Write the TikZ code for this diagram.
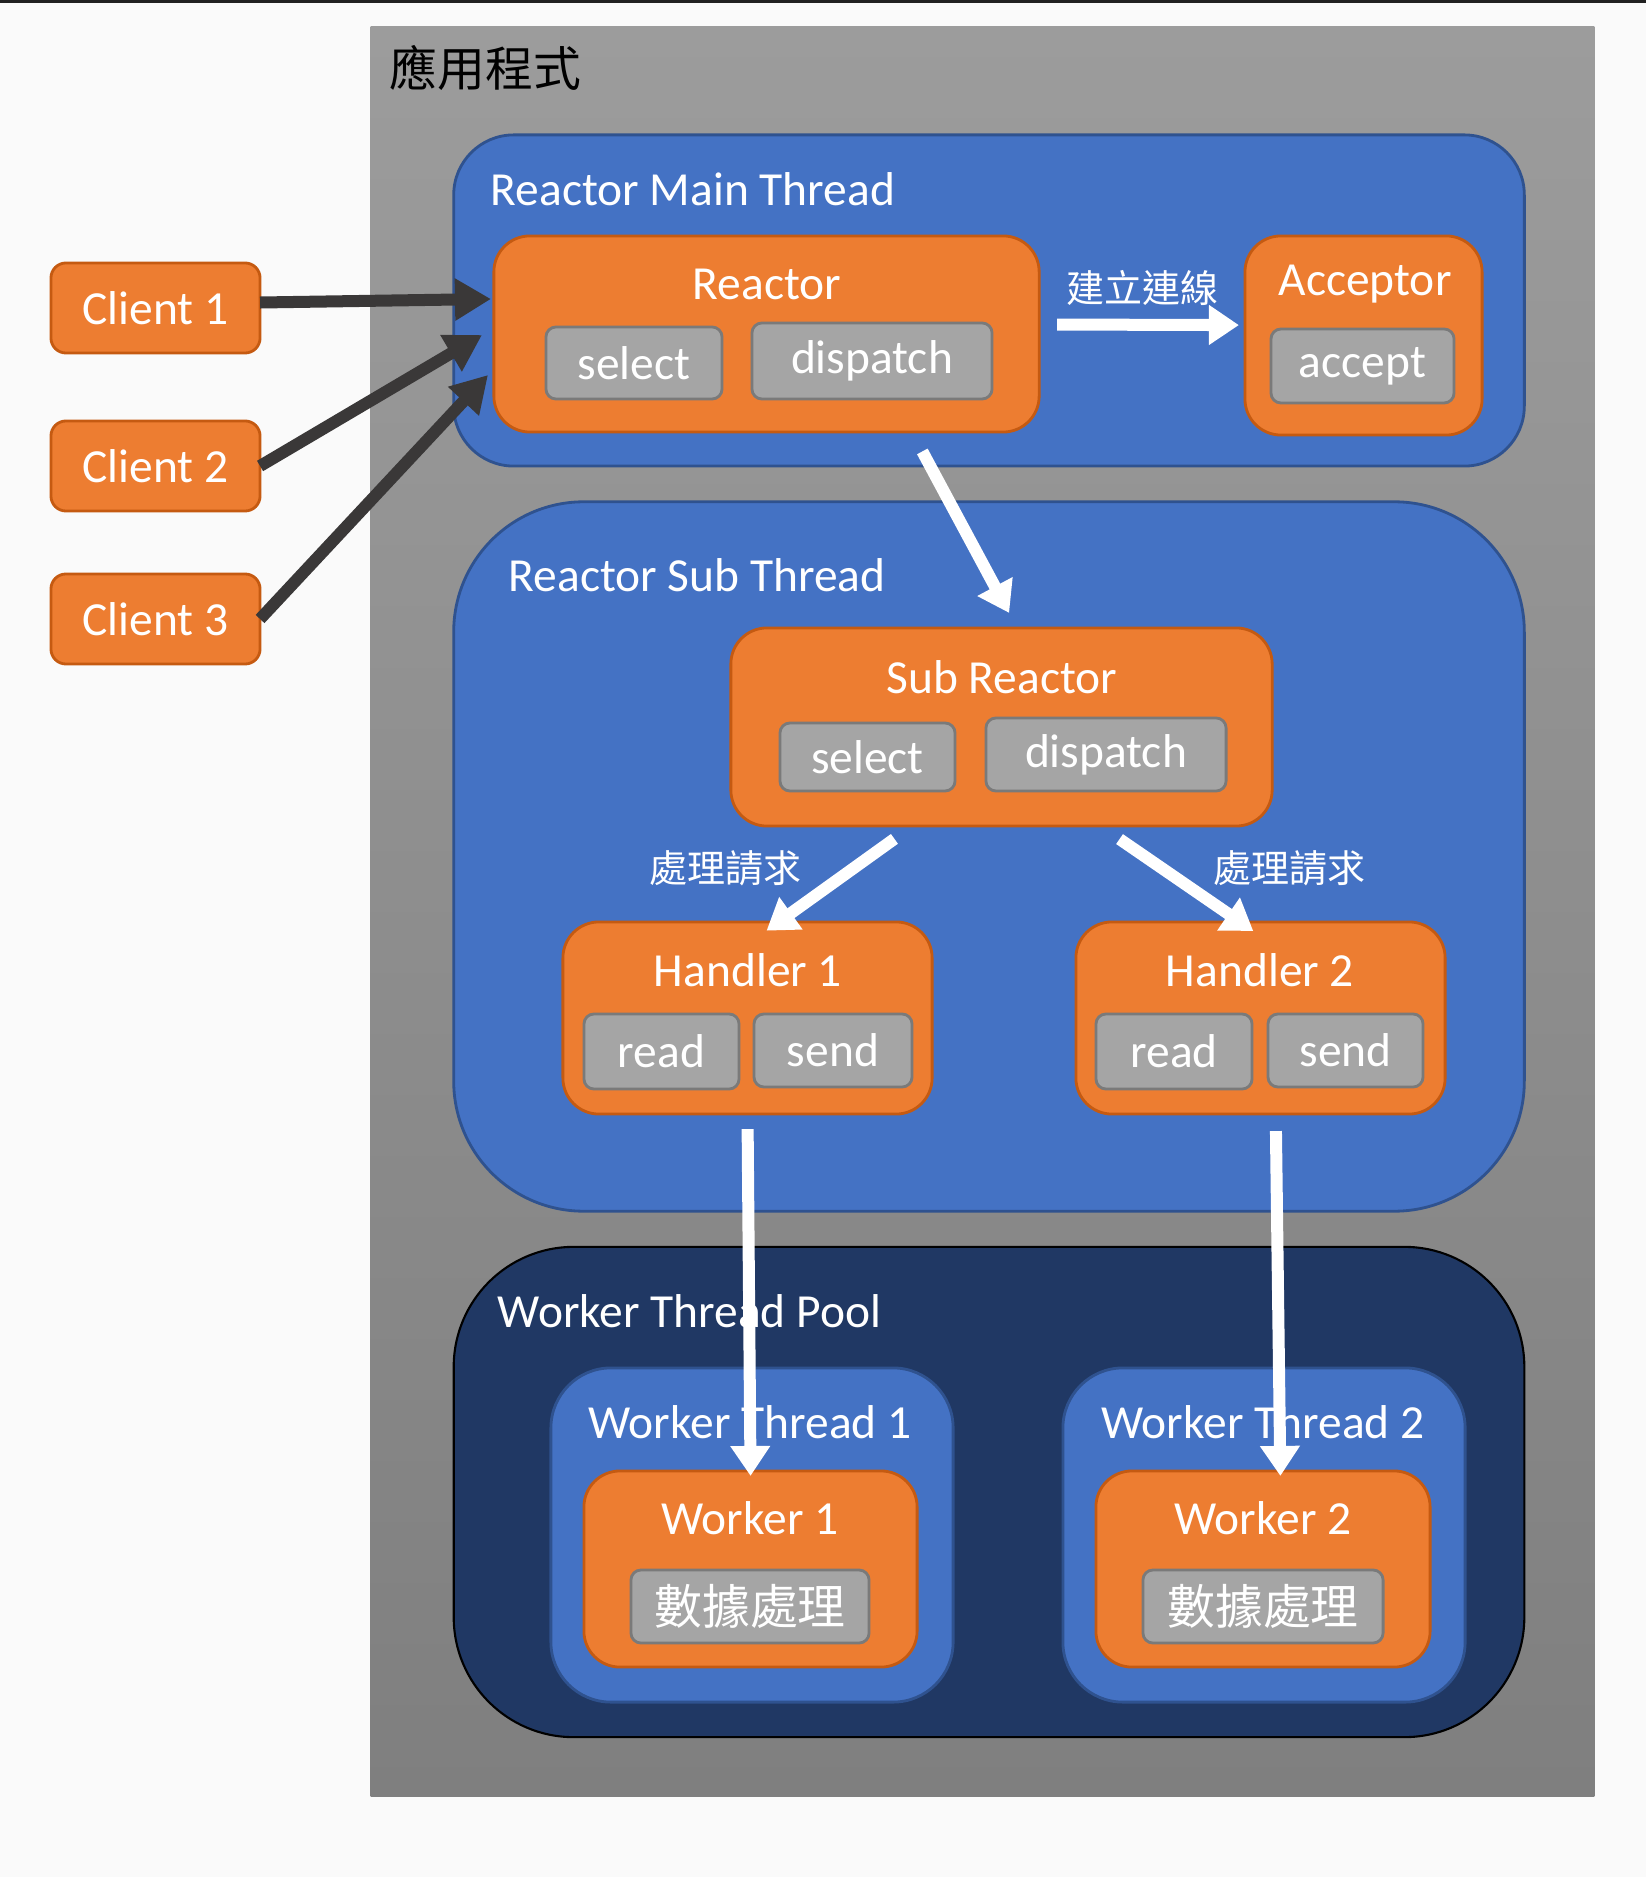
\documentclass[tikz,border=0pt]{standalone}
\usepackage{fontspec}
\setmainfont{Carlito}
\newfontfamily\cjk{Noto Sans CJK TC}
\usetikzlibrary{arrows.meta}
\definecolor{pagebg}{HTML}{FAFAFA}
\definecolor{apptop}{HTML}{9C9C9C}
\definecolor{appbot}{HTML}{7F7F7F}
\definecolor{blu}{HTML}{4472C4}
\definecolor{bluline}{HTML}{2F528F}
\definecolor{navy}{HTML}{203864}
\definecolor{orng}{HTML}{ED7D31}
\definecolor{orngline}{HTML}{C55A11}
\definecolor{gry}{HTML}{A5A5A5}
\definecolor{gryline}{HTML}{7A7A7A}
\definecolor{arrgray}{HTML}{3A3838}
\tikzset{l/.style={font=\fontsize{13.5}{14}\selectfont, text=white, inner sep=0pt}}
\tikzset{m/.style={font=\cjk\fontsize{10.8}{11}\selectfont, text=white, inner sep=0pt}}
\tikzset{box/.style={rectangle, inner sep=0pt, outer sep=0pt}}
\tikzset{thr/.style={box, draw=bluline, fill=blu, line width=0.8pt}}
\tikzset{org/.style={box, draw=orngline, fill=orng, line width=0.8pt, rounded corners=0.36cm}}
\tikzset{cbox/.style={org, rounded corners=0.15cm, minimum width=2.09cm, minimum height=0.9cm, l}}
\tikzset{gbox/.style={box, draw=gryline, fill=gry, line width=0.8pt, rounded corners=0.1cm, l}}
\tikzset{carrow/.style={draw=arrgray, line width=0.12cm, -{Triangle[length=0.36cm,width=0.4cm]}}}
\tikzset{warrow/.style={draw=white, line width=0.12cm, -{Triangle[length=0.3cm,width=0.38cm]}}}

\begin{document}
\begin{tikzpicture}[x=0.01cm,y=-0.01cm]
        \useasboundingbox (0,0) rectangle (1646,1877);
        \fill[pagebg] (0,0) rectangle (1646,1877);
        \fill[black!87] (0,0) rectangle (1646,3);
        \node[box, top color=apptop, bottom color=appbot, minimum width=12.23cm, minimum height=17.69cm] (app) at (982.5,911.5) {};
        \node[anchor=west, inner sep=0pt, font=\cjk\fontsize{13.6}{14}\selectfont] (appT) at (389,68) {應用程式};
        \node[cbox] (cl1) at (155.5,308) {Client 1};
        \node[cbox] (cl2) at (155.5,466) {Client 2};
        \node[cbox] (cl3) at (155.5,619) {Client 3};
        \node[thr, rounded corners=0.6cm, minimum width=10.7cm, minimum height=3.31cm] (mainthr) at (989,300.5) {};
        \node[l, anchor=west] (mainT) at (490,189) {Reactor Main Thread};
        \node[org, minimum width=5.45cm, minimum height=1.96cm] (reactor) at (766.5,334) {};
        \node[l] (reactorT) at (767,284) {Reactor};
        \node[gbox, minimum width=1.76cm, minimum height=0.72cm] (rsel) at (634,363) {select};
        \node[gbox, minimum width=2.4cm, minimum height=0.76cm] (rdis) at (872,361) {dispatch};
        \node[org, minimum width=2.37cm, minimum height=1.99cm] (acceptor) at (1363.5,335.5) {};
        \node[l] (acceptorT) at (1365,284) {Acceptor};
        \node[gbox, minimum width=1.83cm, minimum height=0.74cm] (acc) at (1362.5,366) {accept};
        \node[thr, rounded corners=1.3cm, minimum width=10.7cm, minimum height=7.09cm] (subthr) at (989,856.5) {};
        \node[l, anchor=west] (subT) at (508,575) {Reactor Sub Thread};
        \node[org, minimum width=5.41cm, minimum height=1.98cm] (subreactor) at (1001.5,727) {};
        \node[l] (subreactorT) at (1002,677) {Sub Reactor};
        \node[gbox, minimum width=1.75cm, minimum height=0.68cm] (ssel) at (867.5,757) {select};
        \node[gbox, minimum width=2.4cm, minimum height=0.73cm] (sdis) at (1106,754.5) {dispatch};
        \node[org, minimum width=3.69cm, minimum height=1.92cm] (handler1) at (747.5,1018) {};
        \node[l] (handler1T) at (748,970) {Handler 1};
        \node[gbox, minimum width=1.55cm, minimum height=0.75cm] (h1read) at (661.5,1051.5) {read};
        \node[gbox, minimum width=1.58cm, minimum height=0.73cm] (h1send) at (833,1050.5) {send};
        \node[org, minimum width=3.69cm, minimum height=1.92cm] (handler2) at (1260.5,1018) {};
        \node[l] (handler2T) at (1260,970) {Handler 2};
        \node[gbox, minimum width=1.56cm, minimum height=0.75cm] (h2read) at (1174,1051.5) {read};
        \node[gbox, minimum width=1.55cm, minimum height=0.73cm] (h2send) at (1345.5,1050.5) {send};
        \node[box, draw=black, fill=navy, line width=0.6pt, rounded corners=1.2cm, minimum width=10.7cm, minimum height=4.9cm] (pool) at (989,1492) {};
        \node[l, anchor=west] (poolT) at (497,1311) {Worker Thread Pool};
        \node[thr, rounded corners=0.6cm, minimum width=4.02cm, minimum height=3.34cm] (wthr1) at (752,1535) {};
        \node[l] (wthr1T) at (750,1422) {Worker Thread 1};
        \node[org, minimum width=3.33cm, minimum height=1.96cm] (worker1) at (750.5,1569) {};
        \node[l] (worker1T) at (750,1518) {Worker 1};
        \node[gbox, minimum width=2.38cm, minimum height=0.73cm, font=\cjk\fontsize{13.6}{14}\selectfont] (w1job) at (750,1606.5) {數據處理};
        \node[thr, rounded corners=0.6cm, minimum width=4.02cm, minimum height=3.34cm] (wthr2) at (1264,1535) {};
        \node[l] (wthr2T) at (1263,1422) {Worker Thread 2};
        \node[org, minimum width=3.34cm, minimum height=1.96cm] (worker2) at (1263,1569) {};
        \node[l] (worker2T) at (1263,1518) {Worker 2};
        \node[gbox, minimum width=2.4cm, minimum height=0.73cm, font=\cjk\fontsize{13.6}{14}\selectfont] (w2job) at (1263,1606.5) {數據處理};
        \coordinate (in1) at (491,299);
        \coordinate (in2) at (482,335);
        \coordinate (in3) at (488,375);
        \path (cl1.3) edge [carrow] (in1);
        \path (cl2.east) edge [carrow] (in2);
        \path (cl3.east) edge [carrow] (in3);
        \path (reactor.2) edge [warrow, shorten <=0.18cm, shorten >=0.06cm] node [m, above=0.13cm] {建立連線} (acceptor.175);
        \path (reactor.-34) edge [warrow, shorten <=0.22cm, shorten >=0.17cm] (subreactor.81);
        \path (subreactor.-132) edge [warrow, shorten <=0.22cm, shorten >=-0.15cm] node [m, left=0.38cm, yshift=0.06cm] {處理請求} (handler1.72);
        \path (subreactor.-45) edge [warrow, shorten <=0.23cm, shorten >=-0.16cm] node [m, right=0.37cm, yshift=0.06cm] {處理請求} (handler2.102);
        \path (handler1.south) edge [warrow, shorten <=0.15cm, shorten >=-0.05cm] (worker1.north);
        \path (handler2.-81) edge [warrow, shorten <=0.17cm, shorten >=-0.05cm] (worker2.80);
      \end{tikzpicture}
\end{document}
